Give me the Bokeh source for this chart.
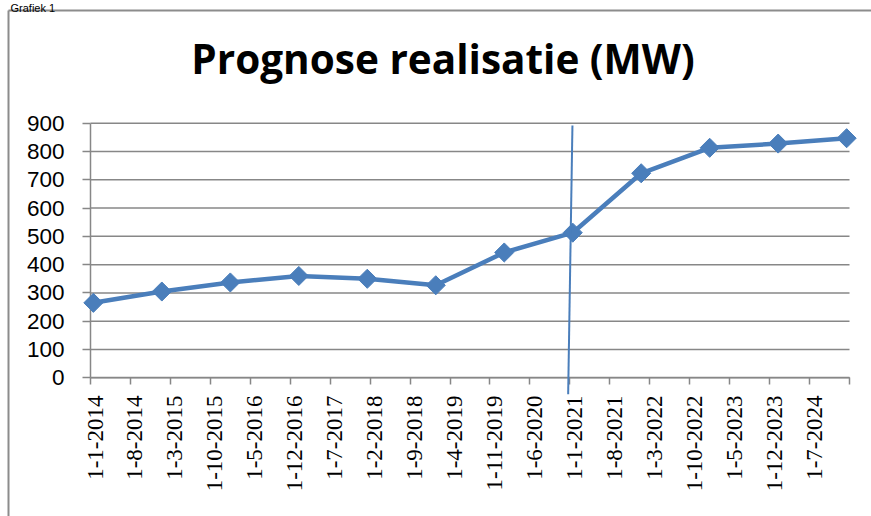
import math
from bokeh.plotting import figure
from bokeh.models import FixedTicker, Label, LabelSet, Range1d, ColumnDataSource
from bokeh.embed import file_html
from bokeh.resources import INLINE

# ---------------- data ----------------
caption_text = "Grafiek 1"
title_text = "Prognose realisatie (MW)"
dates = ["1-1-2014", "1-1-2015", "1-1-2016", "1-1-2017", "1-1-2018", "1-1-2019",
         "1-1-2020", "1-1-2021", "1-1-2022", "1-1-2023", "1-1-2024", "1-1-2025"]
values = [265, 305, 337, 360, 350, 327, 443, 513, 723, 813, 828, 847]
tick_labels = ["1-1-2014", "1-8-2014", "1-3-2015", "1-10-2015", "1-5-2016", "1-12-2016",
               "1-7-2017", "1-2-2018", "1-9-2018", "1-4-2019", "1-11-2019", "1-6-2020",
               "1-1-2021", "1-8-2021", "1-3-2022", "1-10-2022", "1-5-2023", "1-12-2023",
               "1-7-2024"]
axis_start_date = "1-1-2014"
axis_end_date = "1-2-2025"
y_ticks = [0, 100, 200, 300, 400, 500, 600, 700, 800, 900]
divider_date = "1-1-2021"
divider_top_value = 892
divider_bottom_value = -58

BLUE = "#4a7ebb"
GRAY = "#878787"
BORDER = "#8c8c8c"


def month_index(d):
    day, m, y = (int(v) for v in d.split("-"))
    return (y - 2014) * 12 + (m - 1)


# ---------------- layout (pixels) ----------------
W, H = 871, 516
L_PX, R_PX, T_PX, B_PX = 90, 849, 122.7, 377.3
X0, X1 = month_index(axis_start_date), month_index(axis_end_date)
Y0, Y1 = y_ticks[0], y_ticks[-1]
SX = (R_PX - L_PX) / (X1 - X0)
SY = (B_PX - T_PX) / (Y1 - Y0)


def px_x(px):
    return X0 + (px - L_PX) / SX


def px_y(py):
    return Y0 + (B_PX - py) / SY


# Excel date axis (base unit month): a date sits in the middle of its month slot
xs = [month_index(d) + 0.5 for d in dates]
tick_pos = [month_index(t) for t in tick_labels] + [X1]

p = figure(width=W, height=H,
           x_range=Range1d(px_x(0), px_x(W)), y_range=Range1d(px_y(H), px_y(0)),
           output_backend="svg", toolbar_location=None, min_border=0)
p.border_fill_color = "white"
p.background_fill_color = "white"
p.outline_line_color = None
p.title.visible = False

# axes drawn inside the (full-canvas) frame, Excel-like
p.xaxis.fixed_location = Y0
p.xaxis.bounds = (X0, X1)
p.yaxis.fixed_location = X0
p.yaxis.bounds = (Y0, Y1)

p.xaxis.ticker = FixedTicker(ticks=tick_pos)
p.xaxis.major_label_text_alpha = 0          # labels drawn below with a small Excel-like shift
p.xaxis.major_tick_out = 7
p.xaxis.major_tick_in = 0
p.xaxis.minor_tick_line_color = None
p.xaxis.major_label_overrides = {tp: "" for tp in tick_pos}

p.yaxis.ticker = FixedTicker(ticks=y_ticks)
p.yaxis.major_tick_out = 8
p.yaxis.major_tick_in = 0
p.yaxis.minor_tick_line_color = None
p.yaxis.major_label_standoff = 18

for ax in (p.xaxis, p.yaxis):
    ax.axis_line_color = GRAY
    ax.axis_line_width = 1.5
    ax.major_tick_line_color = GRAY
    ax.major_tick_line_width = 1.5
    ax.major_label_text_font = "Liberation Sans"
    ax.major_label_text_font_size = "22.5px"
    ax.major_label_text_color = "black"
    ax.level = "underlay"

p.xgrid.visible = False
p.ygrid.visible = False

# horizontal gridlines at the y ticks, bounded to the plot area
p.segment(x0=[X0] * len(y_ticks), x1=[X1] * len(y_ticks), y0=y_ticks, y1=y_ticks,
          line_color=GRAY, line_width=1.5)

# chart border (top and left edges visible)
p.segment(x0=[px_x(8), px_x(8)], y0=[px_y(10), px_y(10)],
          x1=[px_x(W), px_x(8)], y1=[px_y(10), px_y(H)],
          line_color=BORDER, line_width=2)

# x tick labels (vertical, reading upwards)
lab_src = ColumnDataSource(dict(x=[month_index(t) for t in tick_labels],
                                y=[px_y(395)] * len(tick_labels),
                                text=tick_labels))
p.add_layout(LabelSet(x="x", y="y", text="text", source=lab_src, angle=math.pi / 2,
                      text_align="right", text_baseline="middle", x_offset=4.5,
                      text_font="Liberation Sans", text_font_size="23px",
                      text_color="black"))

# series
p.line(xs, values, line_color=BLUE, line_width=4.5)
p.scatter(xs, values, marker="square", angle=math.pi / 4, size=13.5,
          fill_color=BLUE, line_color=BLUE)

# hand-drawn divider line at 1-1-2021 (slightly slanted)
dx = month_index(divider_date)
p.segment(x0=[dx + 0.45], y0=[divider_top_value], x1=[dx - 0.3], y1=[divider_bottom_value],
          line_color=BLUE, line_width=2)

# title and caption
p.add_layout(Label(x=px_x(442.5), y=px_y(58), text=title_text, text_align="center",
                   text_baseline="alphabetic", text_font="Open Sans", text_font_style="bold",
                   text_font_size="40.5px", text_color="black"))
p.add_layout(Label(x=px_x(10), y=px_y(13), text=caption_text, text_align="left",
                   text_baseline="bottom", text_font="Liberation Sans",
                   text_font_size="11px", text_color="black"))

open("out.html", "w").write(file_html(p, INLINE))
